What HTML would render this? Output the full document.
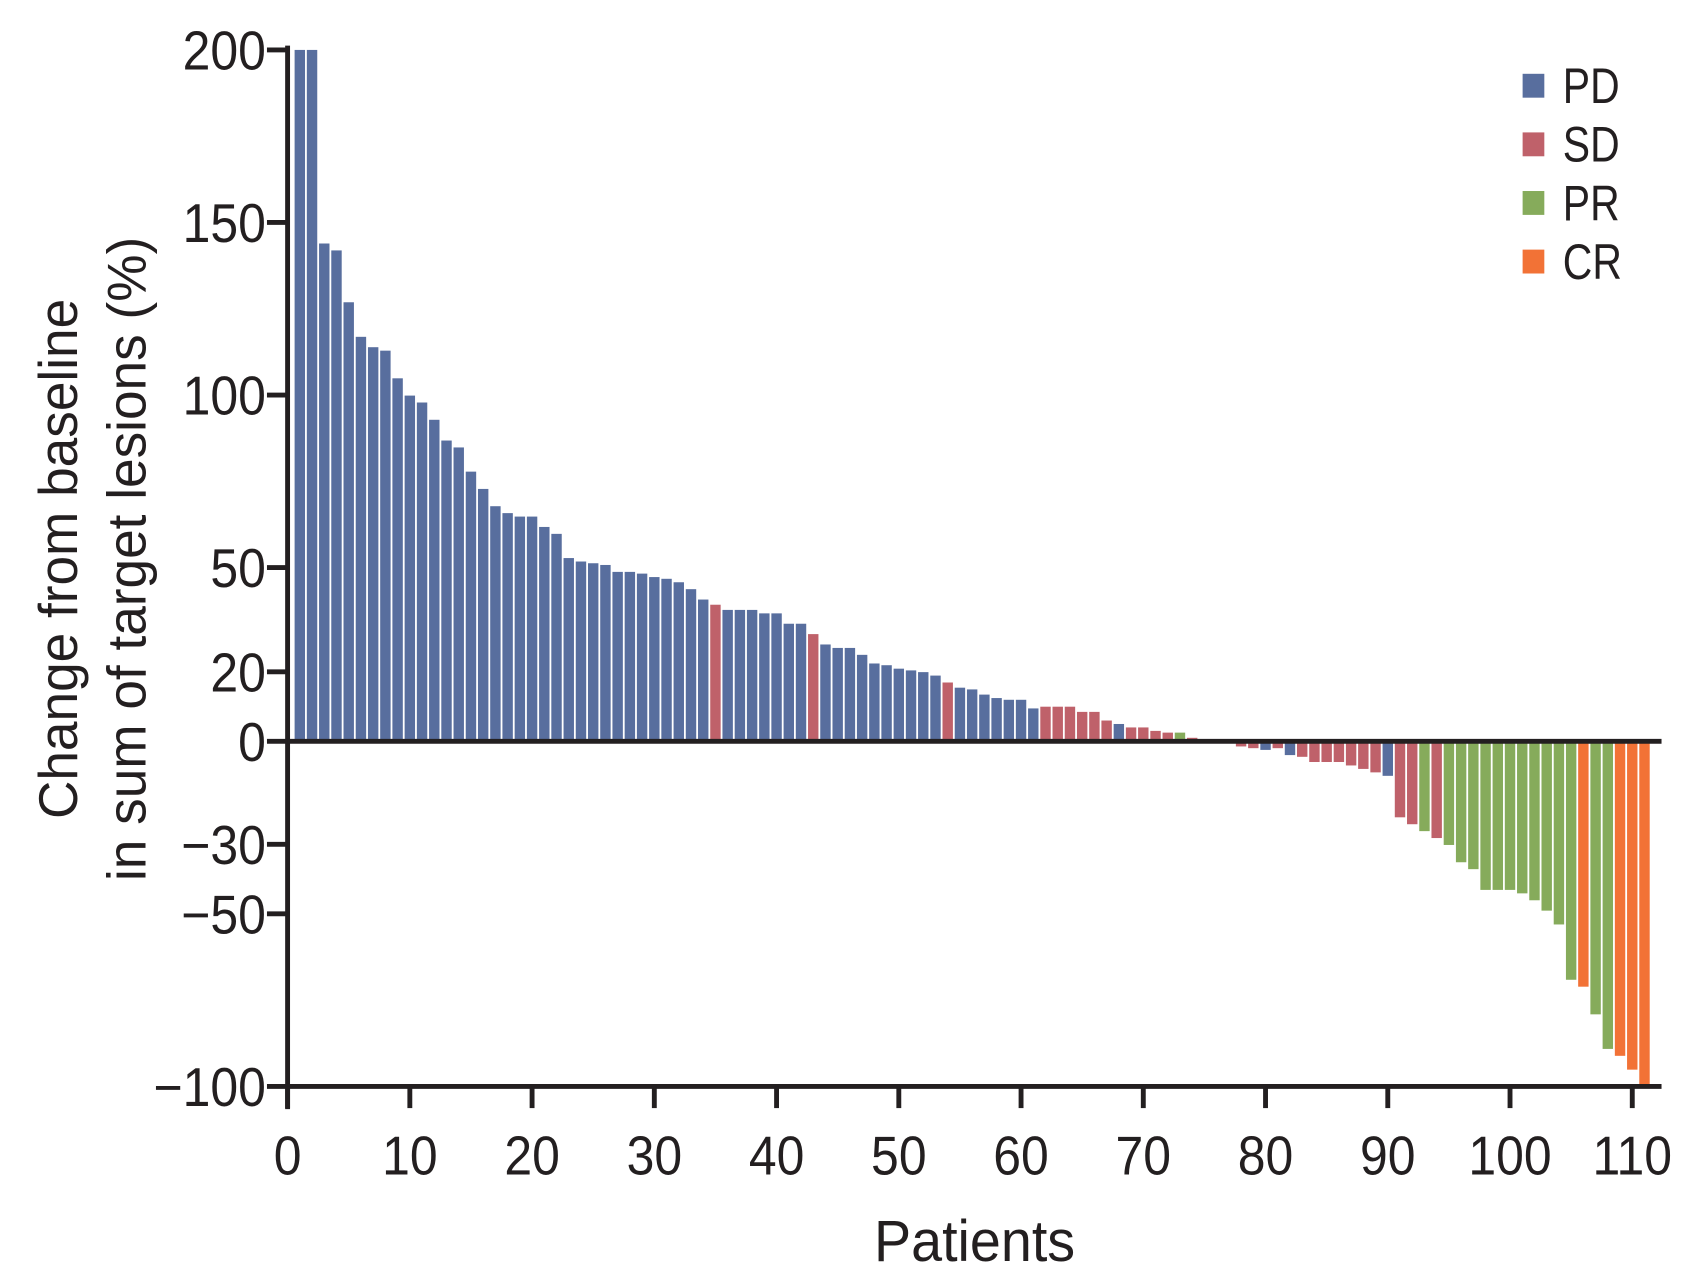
<!DOCTYPE html>
<html><head><meta charset="utf-8"><style>
html,body{margin:0;padding:0;background:#fff;}
svg{display:block;}
text{font-family:"Liberation Sans Narrow","Liberation Sans",sans-serif;fill:#231f20;}
</style></head><body>
<svg id="c" width="1693" height="1285" viewBox="0 0 1560 1184" preserveAspectRatio="none" xmlns="http://www.w3.org/2000/svg">
<g id="bars"></g>
<g stroke="#231f20" stroke-width="4.5" fill="none">
<line x1="265" y1="42" x2="265" y2="1022"/>
<line x1="263" y1="683" x2="1531" y2="683"/>
<line x1="263" y1="1001" x2="1531" y2="1001"/>
<line x1="246" y1="46" x2="265" y2="46"/>
<line x1="246" y1="205" x2="265" y2="205"/>
<line x1="246" y1="364" x2="265" y2="364"/>
<line x1="246" y1="523" x2="265" y2="523"/>
<line x1="246" y1="619" x2="265" y2="619"/>
<line x1="246" y1="683" x2="265" y2="683"/>
<line x1="246" y1="778" x2="265" y2="778"/>
<line x1="246" y1="842" x2="265" y2="842"/>
<line x1="246" y1="1001" x2="265" y2="1001"/>
</g>
<g id="xt" stroke="#231f20" stroke-width="4.5"></g>
<g id="all">
<g font-size="50" text-anchor="end">
<text x="245" y="64" data-s="0.92">200</text>
<text x="245" y="223" data-s="0.92">150</text>
<text x="245" y="382" data-s="0.92">100</text>
<text x="245" y="541" data-s="0.92">50</text>
<text x="245" y="637" data-s="0.92">20</text>
<text x="245" y="701" data-s="0.92">0</text>
<text x="245" y="796" data-s="0.92">−30</text>
<text x="245" y="860" data-s="0.92">−50</text>
<text x="245" y="1019" data-s="0.92">−100</text>
</g>
<g id="xl" font-size="50" text-anchor="middle"></g>
<text x="898" y="1162" font-size="54" text-anchor="middle" data-s="0.95">Patients</text>
<g font-size="50" text-anchor="middle">
<text x="515" y="-71" data-r="1" data-s="0.98">Change from baseline</text>
<text x="515" y="-134" data-r="1" data-s="0.98">in sum of target lesions (%)</text>
</g>
<g font-size="46">
<text x="1440" y="95" data-s="0.82">PD</text>
<text x="1440" y="149" data-s="0.82">SD</text>
<text x="1440" y="203" data-s="0.82">PR</text>
<text x="1440" y="257" data-s="0.82">CR</text>
</g>
</g>
<rect x="1403" y="68" width="20" height="22" fill="#586e9e"/>
<rect x="1403" y="122" width="20" height="22" fill="#bf616a"/>
<rect x="1403" y="176" width="20" height="22" fill="#86ab5b"/>
<rect x="1403" y="230" width="20" height="22" fill="#f27236"/>
</svg>
<script>
var C={P:"#586e9e",S:"#bf616a",R:"#86ab5b",C:"#f27236"};
var d=[[200,"P"],[200,"P"],[144,"P"],[142,"P"],[127,"P"],[117,"P"],[114,"P"],[113,"P"],[105,"P"],[100,"P"],[98,"P"],[93,"P"],[87,"P"],[85,"P"],[78,"P"],[73,"P"],[68,"P"],[66,"P"],[65,"P"],[65,"P"],[62,"P"],[60,"P"],[53,"P"],[52,"P"],[51.5,"P"],[51,"P"],[49,"P"],[49,"P"],[48.5,"P"],[47.5,"P"],[47,"P"],[46,"P"],[44,"P"],[41,"P"],[39.5,"S"],[38,"P"],[38,"P"],[38,"P"],[37,"P"],[37,"P"],[34,"P"],[34,"P"],[31,"S"],[28,"P"],[27,"P"],[27,"P"],[25,"P"],[22.5,"P"],[22,"P"],[21,"P"],[20.5,"P"],[20,"P"],[19,"P"],[17,"S"],[15.5,"P"],[15,"P"],[13.5,"P"],[12.5,"P"],[12,"P"],[12,"P"],[9.5,"P"],[10,"S"],[10,"S"],[10,"S"],[8.5,"S"],[8.5,"S"],[6,"S"],[5,"P"],[4,"S"],[4,"S"],[3,"S"],[2.5,"S"],[2.5,"R"],[1,"S"],[0.5,"S"],[0,"S"],[0,"S"],[-1.5,"S"],[-2,"S"],[-2.5,"P"],[-2,"S"],[-4,"P"],[-4.5,"S"],[-6,"S"],[-6,"S"],[-6,"S"],[-7,"S"],[-8,"S"],[-9,"S"],[-10,"P"],[-22,"S"],[-24,"S"],[-26,"R"],[-28,"S"],[-30,"R"],[-35,"R"],[-37,"R"],[-43,"R"],[-43,"R"],[-43,"R"],[-44,"R"],[-46,"R"],[-49,"R"],[-53,"R"],[-69,"R"],[-71,"C"],[-79,"R"],[-89,"R"],[-91,"C"],[-95,"C"],[-100,"C"]];
var ns="http://www.w3.org/2000/svg",g=document.getElementById("bars");
var k=3.185,y0=683,dx=11.264;
d.forEach(function(b,i){
 if(b[0]==0)return;
 var cx=265+(i+1)*dx,r=document.createElementNS(ns,"rect");
 var h=Math.abs(b[0])*k,y=b[0]>0?y0-h:y0;
 r.setAttribute("x",cx-4.8);r.setAttribute("width",9.6);
 r.setAttribute("y",y);r.setAttribute("height",h);
 r.setAttribute("fill",C[b[1]]);g.appendChild(r);
});
var xt=document.getElementById("xt"),xl=document.getElementById("xl");
for(var v=0;v<=110;v+=10){
 var x=265+v*dx;
 var l=document.createElementNS(ns,"line");
 l.setAttribute("x1",x);l.setAttribute("x2",x);l.setAttribute("y1",1001);l.setAttribute("y2",1021);
 xt.appendChild(l);
 var t=document.createElementNS(ns,"text");
 t.setAttribute("x",x);t.setAttribute("y",1082);t.setAttribute("data-s","0.92");t.textContent=v;xl.appendChild(t);
}
Array.prototype.forEach.call(document.querySelectorAll("#all text"),function(t){
 var x=+t.getAttribute("x"),y=+t.getAttribute("y"),s=t.getAttribute("data-s")||"0.9";
 t.setAttribute("x",0);t.setAttribute("y",0);
 if(t.getAttribute("data-r")){
  t.setAttribute("transform","rotate(-90) translate("+(-x)+","+(-y)+") scale("+s+",1)");
 } else t.setAttribute("transform","translate("+x+","+y+") scale("+s+",1)");
});
</script>
</body></html>
